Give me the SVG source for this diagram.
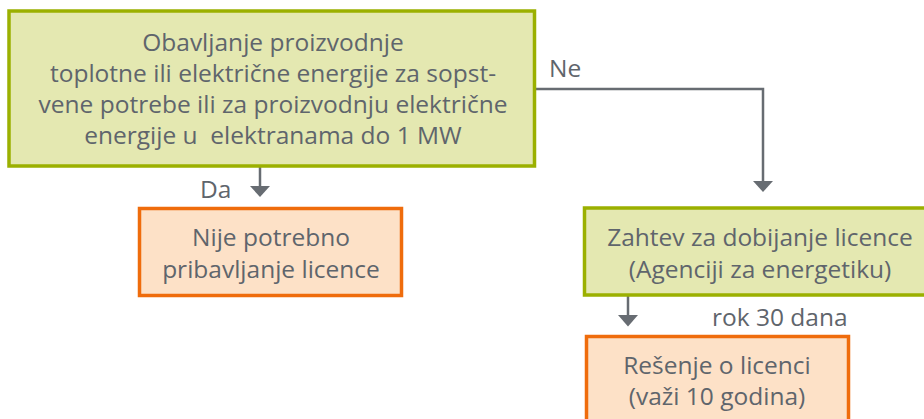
<svg xmlns="http://www.w3.org/2000/svg" width="924" height="419" viewBox="0 0 924 419">
<defs>
<style>
.g{fill:#e4e8b1;stroke:#9bb000;stroke-width:3.5}
.o{fill:#fde1c7;stroke:#ef6c0c;stroke-width:3.5}
.t{font-family:"Open Sans","Liberation Sans",sans-serif;font-size:24.5px;fill:#5f656c;text-anchor:middle}
.l{font-family:"Open Sans","Liberation Sans",sans-serif;font-size:24.5px;fill:#5f656c}
.c{fill:none;stroke:#676c72;stroke-width:2.5}
.h{fill:#676c72}
</style>
</defs>
<rect width="924" height="419" fill="#ffffff"/>
<g id="connectors">
<path class="c" d="M260,167 L260,187"/>
<path class="h" d="M250,186 L270,186 L260,197 Z"/>
<path class="c" d="M536,89 L763,89 L763,182"/>
<path class="h" d="M753,181 L773,181 L763,192 Z"/>
<path class="c" d="M628,296 L628,316"/>
<path class="h" d="M618,315 L638,315 L628,326.5 Z"/>
<text class="l" x="200" y="198">Da</text>
<text class="l" x="549" y="77">Ne</text>
<text class="l" x="712" y="326">rok 30 dana</text>
</g>
<g id="n1">
<rect class="g" x="9" y="11" width="525.5" height="155"/>
<text class="t" x="273" y="51">Obavljanje proizvodnje</text>
<text class="t" x="273" y="82">toplotne ili električne energije za sopst-</text>
<text class="t" x="273" y="113">vene potrebe ili za proizvodnju električne</text>
<text class="t" x="273" y="144" xml:space="preserve">energije u  elektranama do 1 MW</text>
</g>
<g id="n2">
<rect class="o" x="139.5" y="208.5" width="262" height="87"/>
<text class="t" x="271" y="246">Nije potrebno</text>
<text class="t" x="271" y="278">pribavljanje licence</text>
</g>
<g id="n3">
<rect class="g" x="584.5" y="208" width="360" height="87"/>
<text class="t" x="760" y="246">Zahtev za dobijanje licence</text>
<text class="t" x="760" y="278">(Agenciji za energetiku)</text>
</g>
<g id="n4">
<rect class="o" x="586.5" y="336.5" width="262" height="100"/>
<text class="t" x="717" y="374">Rešenje o licenci</text>
<text class="t" x="717" y="405">(važi 10 godina)</text>
</g>
</svg>
